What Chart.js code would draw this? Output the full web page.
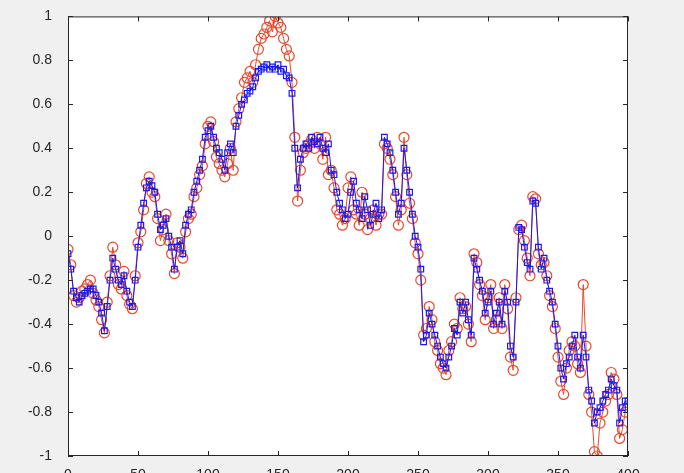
<!DOCTYPE html>
<html><head><script src="https://cdn.jsdelivr.net/npm/chart.js@4"></script>
<style>html,body{margin:0;background:#f0f0f0;}#c{display:block}</style></head>
<body><canvas id="c" width="684" height="473"></canvas>
<script>
const step = 2;
const blueVals = [-0.08,-0.15,-0.25,-0.28,-0.3,-0.27,-0.26,-0.25,-0.24,-0.24,-0.27,-0.3,-0.35,-0.43,-0.32,-0.2,-0.1,-0.15,-0.2,-0.22,-0.18,-0.25,-0.3,-0.32,-0.2,-0.05,0.05,0.15,0.22,0.25,0.23,0.2,0.1,0.03,0.05,0.08,0.0,-0.05,-0.15,-0.05,-0.02,-0.08,0.05,0.1,0.12,0.2,0.25,0.3,0.35,0.45,0.48,0.5,0.45,0.4,0.38,0.35,0.3,0.38,0.42,0.38,
0.5,0.55,0.6,0.62,0.65,0.66,0.68,0.72,0.75,0.76,0.77,0.78,0.76,0.77,0.76,0.78,0.75,0.76,0.73,0.72,0.65,0.4,0.22,0.35,0.4,0.42,0.4,0.45,0.43,0.42,0.45,0.4,0.38,0.42,0.3,0.28,0.2,0.15,0.12,0.08,0.1,0.2,0.25,0.15,0.12,0.08,0.18,0.12,0.05,0.1,0.15,0.08,0.12,0.45,
0.42,0.38,0.3,0.2,0.1,0.15,0.4,0.3,0.2,0.1,0.0,-0.05,-0.15,-0.48,-0.45,-0.35,-0.4,-0.45,-0.5,-0.55,-0.58,-0.6,-0.55,-0.5,-0.42,-0.45,-0.3,-0.35,-0.3,-0.38,-0.45,-0.1,-0.15,-0.2,-0.25,-0.35,-0.3,-0.25,-0.4,-0.35,-0.3,-0.4,-0.25,-0.3,-0.5,-0.55,-0.3,0.04,0.03,-0.05,-0.12,-0.15,0.16,0.15,-0.05,-0.15,-0.1,-0.2,-0.25,-0.3,-0.4,-0.5,-0.6,-0.65,-0.58,-0.55,-0.5,-0.45,-0.55,-0.6,-0.45,-0.55,-0.7,-0.75,-0.85,-0.8,-0.78,-0.75,-0.72,-0.7,-0.65,-0.68,-0.7,-0.85,-0.78,-0.75,-0.75];
const redVals = [-0.06,-0.13,-0.27,-0.3,-0.28,-0.25,-0.24,-0.22,-0.2,-0.26,-0.29,-0.32,-0.38,-0.44,-0.3,-0.18,-0.05,-0.13,-0.22,-0.24,-0.16,-0.27,-0.31,-0.33,-0.18,-0.03,0.02,0.12,0.24,0.27,0.2,0.18,0.08,-0.02,0.03,0.1,-0.02,-0.08,-0.17,-0.03,-0.05,-0.1,0.02,0.08,0.1,0.18,0.22,0.28,0.32,0.42,0.5,0.52,0.43,0.36,0.33,0.3,0.27,0.33,0.4,0.3,
0.52,0.58,0.63,0.7,0.72,0.75,0.7,0.78,0.85,0.9,0.92,0.95,0.98,0.93,1.0,0.97,0.95,0.9,0.85,0.82,0.7,0.45,0.16,0.3,0.38,0.4,0.42,0.44,0.4,0.45,0.42,0.35,0.45,0.28,0.3,0.22,0.12,0.1,0.05,0.08,0.22,0.27,0.12,0.1,0.05,0.2,0.1,0.03,0.08,0.12,0.05,0.1,0.1,0.42,
0.4,0.35,0.28,0.18,0.05,0.12,0.45,0.28,0.15,0.08,-0.03,-0.08,-0.2,-0.45,-0.42,-0.32,-0.38,-0.48,-0.52,-0.58,-0.6,-0.63,-0.52,-0.48,-0.4,-0.42,-0.28,-0.33,-0.32,-0.4,-0.48,-0.08,-0.12,-0.22,-0.27,-0.38,-0.28,-0.22,-0.42,-0.38,-0.28,-0.42,-0.22,-0.33,-0.55,-0.61,-0.28,0.03,0.05,-0.02,-0.1,-0.18,0.18,0.17,-0.08,-0.13,-0.12,-0.18,-0.27,-0.32,-0.42,-0.55,-0.66,-0.72,-0.6,-0.52,-0.48,-0.5,-0.58,-0.62,-0.22,-0.5,-0.72,-0.8,-0.98,-1.0,-0.85,-0.8,-0.75,-0.72,-0.62,-0.65,-0.72,-0.92,-0.88,-0.8,-0.78];
const xTicks = [0,50,100,150,200,250,300,350,400];
const yTicks = [-1,-0.8,-0.6,-0.4,-0.2,0,0.2,0.4,0.6,0.8,1];

const toPts = a => a.map((v,i)=>({x:i*step,y:v}));
const box = {id:'box',afterDraw(ch){const {ctx,chartArea:a,scales:{x,y}}=ch;ctx.save();ctx.strokeStyle='#262626';ctx.lineWidth=1;
ctx.strokeRect(a.left+0.5,a.top+0.5,a.right-a.left-1,a.bottom-a.top-1);ctx.beginPath();
xTicks.forEach(t=>{const p=Math.round(x.getPixelForValue(t))+0.5;ctx.moveTo(p,a.bottom);ctx.lineTo(p,a.bottom-5);ctx.moveTo(p,a.top);ctx.lineTo(p,a.top+5);});
yTicks.forEach(t=>{const p=Math.round(y.getPixelForValue(t))+0.5;ctx.moveTo(a.left,p);ctx.lineTo(a.left+5,p);ctx.moveTo(a.right,p);ctx.lineTo(a.right-5,p);});
ctx.stroke();ctx.restore();}};
const bg={id:'bg',beforeDraw(ch){const {ctx,chartArea:a}=ch;ctx.save();ctx.fillStyle='#fff';ctx.fillRect(a.left,a.top,a.right-a.left,a.bottom-a.top);ctx.restore();}};
new Chart(document.getElementById('c'),{type:'line',
data:{datasets:[
{order:1,data:toPts(redVals),borderColor:'#e8492c',borderWidth:1,pointStyle:'circle',pointRadius:5,pointBorderWidth:1.2,pointBackgroundColor:'rgba(0,0,0,0)',pointBorderColor:'#e8492c',tension:0},
{order:0,data:toPts(blueVals),borderColor:'#1a1aee',borderWidth:1,pointStyle:'rect',pointRadius:4,pointBorderWidth:1.2,pointBackgroundColor:'rgba(0,0,0,0)',pointBorderColor:'#1a1aee',tension:0}
]},
options:{responsive:false,animation:false,devicePixelRatio:1,
layout:{padding:{top:15,right:56,left:0,bottom:0}},
plugins:{legend:{display:false},tooltip:{enabled:false}},
scales:{
x:{type:'linear',min:0,max:400,afterBuildTicks:s=>{s.ticks=xTicks.map(v=>({value:v}));},afterFit:s=>{s.height=17;},
grid:{display:false},border:{display:false},ticks:{autoSkip:false,padding:3,color:'#262626',font:{family:'Liberation Sans',size:14},maxRotation:0,callback:v=>String(v)}},
y:{min:-1,max:1,afterBuildTicks:s=>{s.ticks=yTicks.map(v=>({value:v}));},afterFit:s=>{s.width=68;},
grid:{display:false},border:{display:false},ticks:{autoSkip:false,padding:8,color:'#262626',font:{family:'Liberation Sans',size:14},callback:v=>String(v)}}
}},plugins:[bg,box]});
</script></body></html>
